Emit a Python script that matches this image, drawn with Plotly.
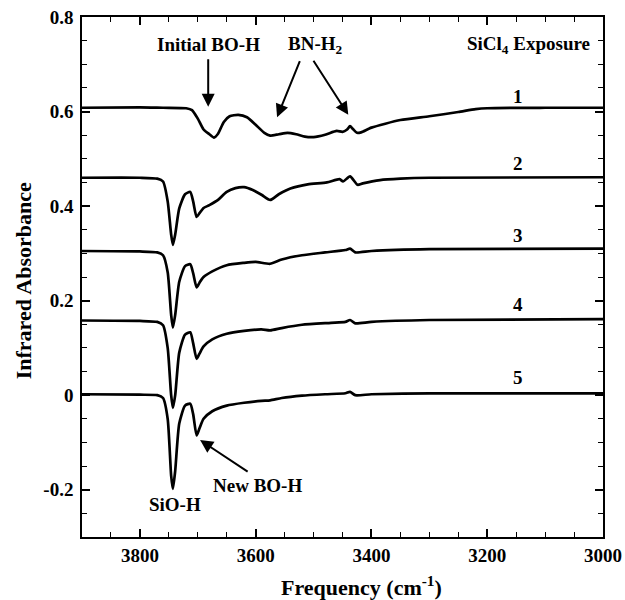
import plotly.graph_objects as go

# ---- data ----
freq1 = [3900, 3800, 3760, 3720, 3710, 3700, 3690, 3680, 3672, 3665, 3655, 3645, 3630, 3615, 3600,
         3585, 3575, 3560, 3545, 3530, 3515, 3500, 3480, 3460, 3450, 3442, 3437, 3432, 3425, 3418,
         3400, 3350, 3300, 3250, 3220, 3200, 3100, 3000]
abs1 = [0.608, 0.609, 0.608, 0.607, 0.603, 0.585, 0.562, 0.552, 0.545, 0.553, 0.578, 0.590, 0.593,
        0.588, 0.572, 0.555, 0.549, 0.552, 0.555, 0.552, 0.547, 0.546, 0.551, 0.559, 0.557, 0.562,
        0.569, 0.563, 0.555, 0.556, 0.566, 0.582, 0.590, 0.599, 0.605, 0.607, 0.608, 0.608]

freq2 = [3900, 3800, 3770, 3760, 3752, 3746, 3743, 3739, 3732, 3722, 3713, 3708, 3702, 3697, 3690,
         3680, 3665, 3650, 3635, 3620, 3605, 3590, 3575, 3560, 3540, 3510, 3477, 3455, 3449, 3437,
         3424, 3415, 3385, 3350, 3300, 3000]
abs2 = [0.460, 0.460, 0.458, 0.452, 0.410, 0.340, 0.318, 0.340, 0.395, 0.425, 0.430, 0.410, 0.377,
        0.385, 0.396, 0.402, 0.413, 0.430, 0.438, 0.440, 0.434, 0.424, 0.413, 0.425, 0.437, 0.446,
        0.450, 0.457, 0.452, 0.463, 0.445, 0.448, 0.455, 0.458, 0.460, 0.461]

freq3 = [3900, 3800, 3770, 3760, 3752, 3746, 3743, 3739, 3732, 3722, 3713, 3708, 3702, 3697, 3690,
         3675, 3650, 3620, 3600, 3575, 3555, 3520, 3480, 3445, 3437, 3428, 3400, 3300, 3000]
abs3 = [0.305, 0.304, 0.302, 0.296, 0.260, 0.170, 0.143, 0.170, 0.240, 0.273, 0.277, 0.258, 0.228,
        0.238, 0.250, 0.262, 0.275, 0.280, 0.282, 0.278, 0.287, 0.296, 0.302, 0.307, 0.310, 0.302,
        0.305, 0.309, 0.310]

freq4 = [3900, 3800, 3770, 3760, 3752, 3746, 3743, 3739, 3732, 3722, 3713, 3708, 3702, 3697, 3690,
         3675, 3650, 3620, 3590, 3575, 3555, 3520, 3470, 3445, 3437, 3428, 3400, 3300, 3000]
abs4 = [0.158, 0.157, 0.155, 0.148, 0.100, 0.000, -0.027, 0.000, 0.090, 0.128, 0.133, 0.110, 0.077,
        0.088, 0.103, 0.118, 0.130, 0.136, 0.139, 0.137, 0.142, 0.149, 0.153, 0.155, 0.159, 0.152,
        0.155, 0.159, 0.161]

freq5 = [3900, 3800, 3770, 3760, 3752, 3746, 3743, 3739, 3732, 3722, 3713, 3708, 3702, 3697, 3690,
         3675, 3650, 3620, 3590, 3575, 3555, 3520, 3480, 3445, 3437, 3428, 3400, 3300, 3000]
abs5 = [0.002, 0.001, 0.000, -0.006, -0.050, -0.170, -0.198, -0.160, -0.060, -0.022, -0.018, -0.040,
        -0.085, -0.070, -0.050, -0.034, -0.022, -0.016, -0.012, -0.011, -0.006, -0.001, 0.002, 0.004,
        0.007, 0.000, 0.002, 0.004, 0.004]

exposure_labels = ["1", "2", "3", "4", "5"]

x_tickvals = [3800, 3600, 3400, 3200, 3000]
x_ticktext = ["3800", "3600", "3400", "3200", "3000"]
y_tickvals = [-0.2, 0, 0.2, 0.4, 0.6, 0.8]
y_ticktext = ["-0.2", "0", "0.2", "0.4", "0.6", "0.8"]

FONT = "Liberation Serif"

fig = go.Figure()
for fx, ay_ in [(freq1, abs1), (freq2, abs2), (freq3, abs3), (freq4, abs4), (freq5, abs5)]:
    fig.add_trace(go.Scatter(x=fx, y=ay_, mode="lines",
                             line=dict(color="black", width=2.7, shape="spline", smoothing=0.6),
                             showlegend=False, hoverinfo="skip"))

axis_common = dict(showline=True, linecolor="black", linewidth=1.5, mirror="allticks",
                   ticks="inside", ticklen=8, tickwidth=1.5, tickcolor="black",
                   showgrid=False, zeroline=False, automargin=False,
                   ticklabeloverflow="allow",
                   tickfont=dict(family=FONT, size=19, color="black", weight="bold"))

fig.update_xaxes(range=[3900, 3000], tickvals=x_tickvals, ticktext=x_ticktext,
                 minor=dict(ticks="inside", dtick=50, tick0=3000, ticklen=5, tickwidth=1.2,
                            tickcolor="black"),
                 **axis_common)
fig.update_yaxes(range=[-0.3, 0.8], tickvals=y_tickvals, ticktext=y_ticktext,
                 ticklabelstandoff=3,
                 minor=dict(ticks="inside", dtick=0.05, tick0=0, ticklen=5, tickwidth=1.2,
                            tickcolor="black"),
                 **axis_common)

tf = dict(family=FONT, size=19, color="black", weight="bold")
titf = dict(family=FONT, size=22, color="black", weight="bold")
ann = []
# axis titles
ann.append(dict(xref="paper", yref="paper", x=0.537, y=-0.094, xanchor="center", yanchor="middle",
                text="Frequency (cm<sup>-1</sup>)", showarrow=False, font=titf))
ann.append(dict(xref="paper", yref="paper", x=-0.113, y=0.492, xanchor="center", yanchor="middle",
                text="Infrared Absorbance", textangle=-90, showarrow=False, font=titf))
# text labels
ann.append(dict(x=3682, y=0.741, text="Initial BO-H", showarrow=False, font=tf))
ann.append(dict(x=3497, y=0.741, text="BN-H<sub>2</sub>", showarrow=False, font=tf))
ann.append(dict(x=3128, y=0.741, text="SiCl<sub>4</sub> Exposure", showarrow=False, font=tf))
ann.append(dict(x=3739, y=-0.232, text="SiO-H", showarrow=False, font=tf))
ann.append(dict(x=3596, y=-0.190, text="New BO-H", showarrow=False, font=tf))
for lab, yy in zip(exposure_labels, [0.631, 0.491, 0.337, 0.191, 0.0384]):
    ann.append(dict(x=3147, y=yy, text=lab, showarrow=False, font=tf))
# arrows (x,y = head, ax,ay = tail)
arrows = [(3682, 0.610, 3682, 0.713),
          (3563, 0.588, 3523, 0.709),
          (3440, 0.593, 3501, 0.709),
          (3696, -0.095, 3613, -0.1625)]
for hx, hy, tx, ty in arrows:
    ann.append(dict(x=hx, y=hy, ax=tx, ay=ty, axref="x", ayref="y", text=" ", showarrow=True,
                    font=dict(size=1), borderpad=0,
                    arrowhead=2, arrowsize=1.3, arrowwidth=2, arrowcolor="black"))

fig.update_layout(width=625, height=600, margin=dict(l=82, r=22, t=17, b=63),
                  plot_bgcolor="white", paper_bgcolor="white", annotations=ann,
                  font=dict(family=FONT, color="black"))

# remove the browser's default 8px body margin so the figure fills the window exactly
fig.write_html("out.html", config={"displayModeBar": False},
               post_script="document.body.style.margin='0';document.body.style.overflow='hidden';")
